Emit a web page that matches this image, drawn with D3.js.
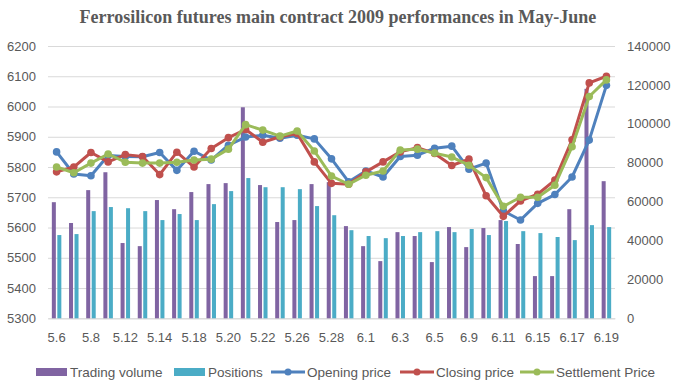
<!DOCTYPE html>
<html>
<head>
<meta charset="utf-8">
<script src="https://cdnjs.cloudflare.com/ajax/libs/d3/7.8.5/d3.min.js"></script>
<style>
  body { margin: 0; background: #fff; }
  text { font-family: "Liberation Sans", Arial, sans-serif; fill: #595959; }
</style>
</head>
<body>
<svg id="chart"></svg>
<script>
// data
var dates = ["5.6","5.7","5.8","5.11","5.12","5.13","5.14","5.15","5.18","5.19","5.20","5.21","5.22","5.25","5.26","5.27","5.28","5.29","6.1","6.2","6.3","6.4","6.5","6.8","6.9","6.10","6.11","6.12","6.15","6.16","6.17","6.18","6.19"];
var tradingVolume = [59700,49000,65900,75100,38700,37100,60800,56100,64900,69000,69500,108500,68500,49500,50500,69000,70000,47400,37100,29400,44300,42300,28900,46900,36600,46400,50500,38200,21700,21700,56100,118000,70500];
var positions = [42800,43300,55100,57200,56600,55100,50500,53600,50500,58700,65400,72100,67400,67400,66400,57700,53000,45300,42300,41200,42300,44300,44800,44300,45900,42800,50000,44800,43800,41800,40200,47900,46900];
var openingPrice = [5850,5777,5771,5838,5835,5834,5848,5789,5852,5823,5872,5899,5905,5895,5905,5893,5827,5751,5787,5767,5835,5839,5862,5869,5793,5813,5655,5625,5680,5709,5767,5889,6070];
var closingPrice = [5784,5800,5848,5817,5841,5835,5775,5849,5800,5861,5897,5924,5882,5900,5911,5817,5746,5743,5784,5817,5850,5864,5845,5805,5826,5705,5637,5688,5710,5757,5890,6078,6100];
var settlementPrice = [5800,5781,5813,5843,5816,5813,5813,5816,5823,5826,5859,5940,5922,5902,5919,5853,5770,5743,5773,5787,5856,5859,5846,5833,5806,5765,5670,5700,5700,5740,5867,6033,6088];
var leftTicks = [5300,5400,5500,5600,5700,5800,5900,6000,6100,6200];
var rightTicks = [0,20000,40000,60000,80000,100000,120000,140000];

function init(){
    var W = 678, H = 389;
    var left = 48, right = 615, top = 46, bottom = 318.3;

    var svg = d3.select("#chart").attr("width", W).attr("height", H);

    // scales
    var x = d3.scaleBand().domain(dates).range([left, right]).padding(0);
    var bw = x.bandwidth();
    var xs = d3.scaleBand().domain(["vol","pos"])
        .range([bw * 0.2235, bw * 0.7765]).paddingInner(0.27);
    var yL = d3.scaleLinear().domain([5300, 6200]).range([bottom, top]);
    var yR = d3.scaleLinear().domain([0, 140000]).range([bottom, top]);

    // title
    svg.append("text")
        .attr("x", 338).attr("y", 23)
        .attr("text-anchor", "middle")
        .style("font-family", "'Liberation Serif', 'Times New Roman', serif")
        .style("font-weight", "bold")
        .style("font-size", "18px")
        .text("Ferrosilicon futures main contract 2009 performances in May-June");

    // gridlines
    svg.append("g")
        .attr("transform", "translate(" + left + ",0)")
        .call(d3.axisLeft(yL).tickValues(leftTicks).tickSize(-(right - left)).tickFormat(""))
        .call(function(g){
            g.select(".domain").remove();
            g.selectAll("line").attr("stroke", "#d9d9d9");
        });

    // left axis
    svg.append("g")
        .attr("transform", "translate(36,0)")
        .call(d3.axisLeft(yL).tickValues(leftTicks).tickSize(0).tickPadding(0).tickFormat(d3.format("d")))
        .call(function(g){
            g.select(".domain").remove();
            g.selectAll("text").style("font-size", "13px").style("fill", "#595959");
        });

    // right axis
    svg.append("g")
        .attr("transform", "translate(627,0)")
        .call(d3.axisRight(yR).tickValues(rightTicks).tickSize(0).tickPadding(0).tickFormat(d3.format("d")))
        .call(function(g){
            g.select(".domain").remove();
            g.selectAll("text").style("font-size", "13px").style("fill", "#595959");
        });

    // bottom axis, every other date
    svg.append("g")
        .attr("transform", "translate(0," + bottom + ")")
        .call(d3.axisBottom(x).tickValues(dates.filter(function(d, i){ return i % 2 === 0; }))
            .tickSize(0).tickPadding(14))
        .call(function(g){
            g.select(".domain").attr("stroke", "#d9d9d9");
            g.selectAll("text").style("font-size", "13px").style("fill", "#595959");
        });

    // bars
    var bars = [
        {key: "vol", values: tradingVolume, color: "#8064A2"},
        {key: "pos", values: positions, color: "#4BACC6"}
    ];
    bars.forEach(function(s){
        svg.append("g").selectAll("rect")
            .data(s.values)
            .enter()
            .append("rect")
            .attr("x", function(d, i){ return x(dates[i]) + xs(s.key); })
            .attr("y", function(d){ return yR(d); })
            .attr("width", xs.bandwidth())
            .attr("height", function(d){ return bottom - yR(d); })
            .attr("fill", s.color);
    });

    // lines
    var lines = [
        {values: openingPrice, color: "#4F81BD"},
        {values: closingPrice, color: "#C0504D"},
        {values: settlementPrice, color: "#9BBB59"}
    ];
    var line = d3.line()
        .x(function(d, i){ return x(dates[i]) + bw / 2; })
        .y(function(d){ return yL(d); });
    lines.forEach(function(s){
        var g = svg.append("g");
        g.append("path")
            .datum(s.values)
            .attr("d", line)
            .attr("fill", "none")
            .attr("stroke", s.color)
            .attr("stroke-width", 3)
            .attr("stroke-linejoin", "round");
        g.selectAll("circle")
            .data(s.values)
            .enter()
            .append("circle")
            .attr("cx", function(d, i){ return x(dates[i]) + bw / 2; })
            .attr("cy", function(d){ return yL(d); })
            .attr("r", 3.8)
            .attr("fill", s.color);
    });

    // legend
    var legend = [
        {name: "Trading volume", color: "#8064A2", type: "bar", x: 36},
        {name: "Positions", color: "#4BACC6", type: "bar", x: 174},
        {name: "Opening price", color: "#4F81BD", type: "line", x: 271},
        {name: "Closing price", color: "#C0504D", type: "line", x: 400},
        {name: "Settlement Price", color: "#9BBB59", type: "line", x: 520}
    ];
    var ly = 372;
    var lg = svg.append("g").selectAll("g")
        .data(legend)
        .enter()
        .append("g")
        .attr("transform", function(d){ return "translate(" + d.x + "," + ly + ")"; });
    lg.filter(function(d){ return d.type === "bar"; })
        .append("rect")
        .attr("x", 0).attr("y", -4)
        .attr("width", 31).attr("height", 8)
        .attr("fill", function(d){ return d.color; });
    lg.filter(function(d){ return d.type === "line"; })
        .append("line")
        .attr("x1", 0).attr("x2", 34)
        .attr("stroke", function(d){ return d.color; })
        .attr("stroke-width", 3);
    lg.filter(function(d){ return d.type === "line"; })
        .append("circle")
        .attr("cx", 17).attr("r", 3.5)
        .attr("fill", function(d){ return d.color; });
    lg.append("text")
        .attr("x", function(d){ return d.type === "bar" ? 34 : 36; })
        .attr("y", 4.5)
        .style("font-size", "13.5px")
        .text(function(d){ return d.name; });
}
window.onload = init;
</script>
</body>
</html>
